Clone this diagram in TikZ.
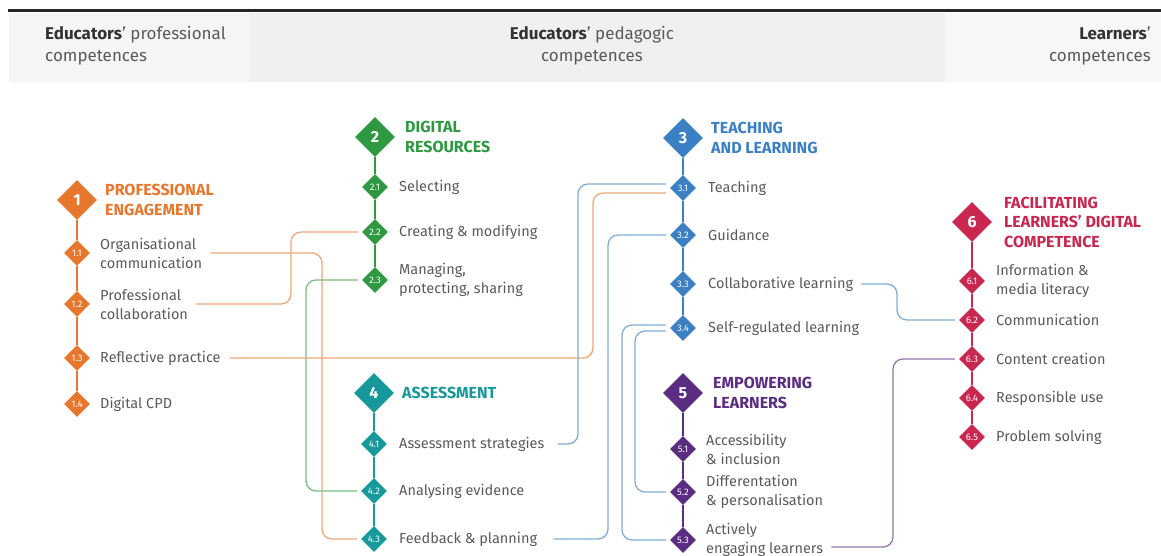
\documentclass[tikz,border=0pt]{standalone}
\usepackage{fontspec}
\setmainfont{Fira Sans}
\usetikzlibrary{shapes.geometric,positioning}
\definecolor{engage}{HTML}{E8772E}
\definecolor{resource}{HTML}{2E9940}
\definecolor{assess}{HTML}{17999B}
\definecolor{teach}{HTML}{3B7FC4}
\definecolor{empower}{HTML}{5A2C82}
\definecolor{facil}{HTML}{C92650}
\definecolor{itemgray}{HTML}{5A5A5A}
\definecolor{headgray}{HTML}{333333}

\begin{document}
\begin{tikzpicture}[x=1pt,y=-1pt,on grid,
  bigdia/.style={diamond,fill=#1,text=white,minimum width=40pt,minimum height=40pt,inner sep=0pt,font=\bfseries\fontsize{16}{16}\selectfont},
  subdia/.style={diamond,fill=#1,text=white,minimum width=26pt,minimum height=26pt,inner sep=0pt,font=\fontsize{9.5}{9.5}\selectfont},
  heading/.style={text=#1,font=\bfseries\fontsize{16}{19.5}\selectfont,align=left,inner sep=0pt},
  entry/.style={text=itemgray,font=\fontsize{14.5}{19}\selectfont,align=left,inner sep=0pt},
  hdr/.style={text=itemgray,font=\fontsize{17}{22}\selectfont,inner sep=0pt},
  spine/.style={draw=#1,line width=1.5pt},
  wire/.style={draw=#1!65,line width=1.3pt,rounded corners=10pt}]
   \useasboundingbox (0,0) rectangle (1161,556);
   \fill[black!4] (9,13) rectangle (250,82);
   \fill[black!6] (250,13) rectangle (945,82);
   \fill[black!3] (945,13) rectangle (1161,82);
   \draw[line width=3pt,black!85] (8,11) -- (1161,11);
   \node[hdr,align=left,anchor=west] (hl) at (45,46) {\textbf{\color{headgray}Educators}' professional\\competences};
   \node[hdr,align=center] (hm) at (592,46) {\textbf{\color{headgray}Educators}' pedagogic\\competences};
   \node[hdr,align=right,anchor=east] (hr) at (1151,46) {\textbf{\color{headgray}Learners}'\\competences};
   % 1 professional engagement
   \node[bigdia=engage] (d1) at (77,200) {1};
   \node[subdia=engage] (d11) [below=53pt of d1] {1.1};
   \node[subdia=engage] (d12) [below=51pt of d11] {1.2};
   \node[subdia=engage] (d13) [below=54pt of d12] {1.3};
   \node[subdia=engage] (d14) [below=46pt of d13] {1.4};
   \node[heading=engage] (h1) [right=28pt of d1,anchor=west] {PROFESSIONAL\\ENGAGEMENT};
   \node[entry] (t11) [right=23pt of d11,anchor=west] {Organisational\\communication};
   \node[entry] (t12) [right=23pt of d12,anchor=west] {Professional\\collaboration};
   \node[entry] (t13) [right=23pt of d13,anchor=west] {Reflective practice};
   \node[entry] (t14) [right=23pt of d14,anchor=west] {Digital CPD};
   % 2 digital resources
   \node[bigdia=resource] (d2) at (375,137) {2};
   \node[subdia=resource] (d21) [below=50pt of d2] {2.1};
   \node[subdia=resource] (d22) [below=45pt of d21] {2.2};
   \node[subdia=resource] (d23) [below=48pt of d22] {2.3};
   \node[heading=resource] (h2) [right=30pt of d2,anchor=west] {DIGITAL\\RESOURCES};
   \node[entry] (t21) [right=24pt of d21,anchor=west] {Selecting};
   \node[entry] (t22) [right=24pt of d22,anchor=west] {Creating \& modifying};
   \node[entry] (t23) [right=24pt of d23,anchor=west] {Managing,\\protecting, sharing};
   % 4 assessment
   \node[bigdia=assess] (d4) at (374,393) {4};
   \node[subdia=assess] (d41) [below=51pt of d4] {4.1};
   \node[subdia=assess] (d42) [below=47pt of d41] {4.2};
   \node[subdia=assess] (d43) [below=48pt of d42] {4.3};
   \node[heading=assess] (h4) [right=28pt of d4,anchor=west] {ASSESSMENT};
   \node[entry] (t41) [right=25pt of d41,anchor=west] {Assessment strategies};
   \node[entry] (t42) [right=25pt of d42,anchor=west] {Analysing evidence};
   \node[entry] (t43) [right=25pt of d43,anchor=west] {Feedback \& planning};
   % 3 teaching and learning
   \node[bigdia=teach] (d3) at (683,138) {3};
   \node[subdia=teach] (d31) [below=50pt of d3] {3.1};
   \node[subdia=teach] (d32) [below=47pt of d31] {3.2};
   \node[subdia=teach] (d33) [below=49pt of d32] {3.3};
   \node[subdia=teach] (d34) [below=44pt of d33] {3.4};
   \node[heading=teach] (h3) [right=28pt of d3,anchor=west] {TEACHING\\AND LEARNING};
   \node[entry] (t31) [right=25pt of d31,anchor=west] {Teaching};
   \node[entry] (t32) [right=25pt of d32,anchor=west] {Guidance};
   \node[entry] (t33) [right=25pt of d33,anchor=west] {Collaborative learning};
   \node[entry] (t34) [right=25pt of d34,anchor=west] {Self-regulated learning};
   % 5 empowering learners
   \node[bigdia=empower] (d5) at (683,393) {5};
   \node[subdia=empower] (d51) [below=56pt of d5] {5.1};
   \node[subdia=empower] (d52) [below=43pt of d51] {5.2};
   \node[subdia=empower] (d53) [below=48pt of d52] {5.3};
   \node[heading=empower] (h5) [right=30pt of d5,anchor=west] {EMPOWERING\\LEARNERS};
   \node[entry] (t51) [right=23pt of d51,anchor=west] {Accessibility\\\& inclusion};
   \node[entry] (t52) [right=23pt of d52,anchor=west] {Differentation\\\& personalisation};
   \node[entry] (t53) [right=23pt of d53,anchor=west] {Actively\\engaging learners};
   % 6 facilitating learners' digital competence
   \node[bigdia=facil] (d6) at (972,222) {6};
   \node[subdia=facil] (d61) [below=59pt of d6] {6.1};
   \node[subdia=facil] (d62) [below=39pt of d61] {6.2};
   \node[subdia=facil] (d63) [below=39pt of d62] {6.3};
   \node[subdia=facil] (d64) [below=39pt of d63] {6.4};
   \node[subdia=facil] (d65) [below=39pt of d64] {6.5};
   \node[heading=facil] (h6) [right=32pt of d6,anchor=west] {FACILITATING\\LEARNERS' DIGITAL\\COMPETENCE};
   \node[entry] (t61) [right=24pt of d61,anchor=west] {Information \&\\media literacy};
   \node[entry] (t62) [right=24pt of d62,anchor=west] {Communication};
   \node[entry] (t63) [right=24pt of d63,anchor=west] {Content creation};
   \node[entry] (t64) [right=24pt of d64,anchor=west] {Responsible use};
   \node[entry] (t65) [right=24pt of d65,anchor=west] {Problem solving};
   \draw[spine=engage] (d1) -- (d11) -- (d12) -- (d13) -- (d14);
   \draw[spine=resource] (d2) -- (d21) -- (d22) -- (d23);
   \draw[spine=assess] (d4) -- (d41) -- (d42) -- (d43);
   \draw[spine=teach] (d3) -- (d31) -- (d32) -- (d33) -- (d34);
   \draw[spine=empower] (d5) -- (d51) -- (d52) -- (d53);
   \draw[spine=facil] (d6) -- (d61) -- (d62) -- (d63) -- (d64) -- (d65);
   % rails
   \coordinate (ra) at (322,0);
   \coordinate (rb) at (291,0);
   \coordinate (rc) at (306,0);
   \coordinate (rd) at (593,0);
   \coordinate (re) at (578,0);
   \coordinate (rf) at (608,0);
   \coordinate (rg) at (622,0);
   \coordinate (rh) at (635,0);
   \coordinate (ri) at (897,0);
   \coordinate (rj) at (893,0);
   \draw[wire=engage] ([xshift=8pt]t11.east) -- (t11.east -| ra) -- (d43.west -| ra) -- ([xshift=-4pt]d43.west);
   \draw[wire=engage] ([xshift=8pt]t12.east) -- (t12.east -| rb) -- (d22.west -| rb) -- ([xshift=-4pt]d22.west);
   \draw[wire=resource] ([xshift=-4pt]d23.west) -- (d23.west -| rc) -- (d42.west -| rc) -- ([xshift=-4pt]d42.west);
   \draw[wire=engage] ([xshift=9pt]t13.east) -- (t13.east -| rd) -- ([yshift=-5pt]d31.west -| rd) -- ([xshift=-4pt,yshift=-5pt]d31.west);
   \draw[wire=teach] ([xshift=-4pt,yshift=4pt]d31.west) -- ([yshift=4pt]d31.west -| re) -- (t41.east -| re) -- ([xshift=13pt]t41.east);
   \draw[wire=teach] ([xshift=-4pt]d32.west) -- (d32.west -| rf) -- (t43.east -| rf) -- ([xshift=16pt]t43.east);
   \draw[wire=teach] ([xshift=-4pt,yshift=3pt]d34.west) -- ([yshift=3pt]d34.west -| rg) -- (d53.west -| rg) -- ([xshift=-4pt]d53.west);
   \draw[wire=teach] ([xshift=-4pt,yshift=-3pt]d34.west) -- ([yshift=-3pt]d34.west -| rh) -- (d52.west -| rh) -- ([xshift=-4pt]d52.west);
   \draw[wire=teach] ([xshift=8pt]t33.east) -- (t33.east -| ri) -- (d62.west -| ri) -- ([xshift=-4pt]d62.west);
   \draw[wire=empower] ([xshift=8pt,yshift=-7pt]t53.east) -- ([yshift=-7pt]t53.east -| rj) -- (d63.west -| rj) -- ([xshift=-4pt]d63.west);
\end{tikzpicture}
\end{document}
